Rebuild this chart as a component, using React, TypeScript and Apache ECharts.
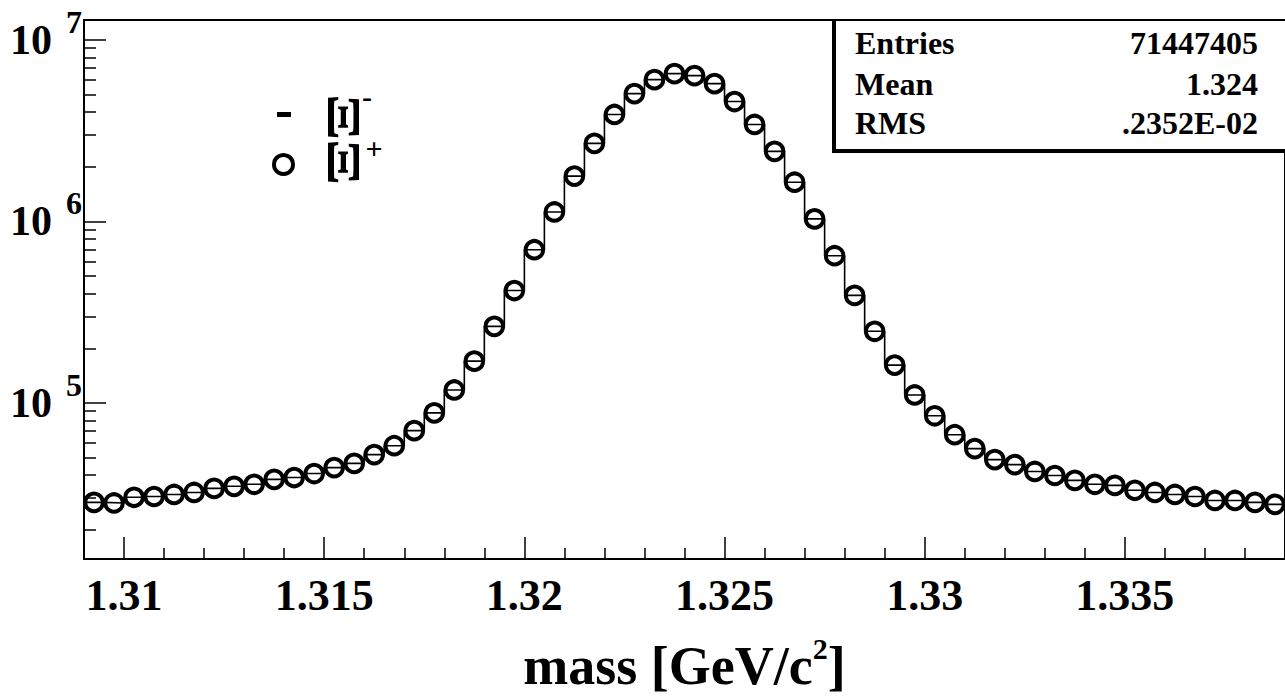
import React, { useEffect, useRef } from "react";
import * as echarts from "echarts";

const FONT = "'Liberation Serif', 'Times New Roman', serif";

// histogram binning (bin centres, GeV/c^2)
const binWidth = 0.0005;
const binCenters = [
  1.30925, 1.30975, 1.31025, 1.31075, 1.31125, 1.31175, 1.31225, 1.31275, 1.31325, 1.31375,
  1.31425, 1.31475, 1.31525, 1.31575, 1.31625, 1.31675, 1.31725, 1.31775, 1.31825, 1.31875,
  1.31925, 1.31975, 1.32025, 1.32075, 1.32125, 1.32175, 1.32225, 1.32275, 1.32325, 1.32375,
  1.32425, 1.32475, 1.32525, 1.32575, 1.32625, 1.32675, 1.32725, 1.32775, 1.32825, 1.32875,
  1.32925, 1.32975, 1.33025, 1.33075, 1.33125, 1.33175, 1.33225, 1.33275, 1.33325, 1.33375,
  1.33425, 1.33475, 1.33525, 1.33575, 1.33625, 1.33675, 1.33725, 1.33775, 1.33825, 1.33875,
];

// Xi- histogram contents (line)
const xiMinus = [
  28300, 28100, 30200, 30500, 31300, 32100, 33800, 34700, 35600, 37900,
  38800, 40800, 44000, 46400, 51900, 58100, 70300, 88100, 117800, 169800,
  264000, 416000, 698000, 1127000, 1776000, 2692000, 3882000, 5058000, 6039000, 6516000,
  6353000, 5741000, 4574000, 3420000, 2432000, 1644000, 1032000, 647000, 391000, 248000,
  161500, 110600, 84900, 66800, 56000, 48700, 45700, 41900, 39800, 37400,
  35600, 35100, 33000, 32100, 31300, 30500, 29000, 29000, 28300, 27600,
];

// anti-Xi+ histogram contents (open circles)
const xiBarPlus = [
  28300, 28100, 30200, 30500, 31300, 32100, 33800, 34700, 35600, 37900,
  38800, 40800, 44000, 46400, 51900, 58100, 70300, 88100, 117800, 169800,
  264000, 416000, 698000, 1127000, 1776000, 2692000, 3882000, 5058000, 6039000, 6516000,
  6353000, 5741000, 4574000, 3420000, 2432000, 1644000, 1032000, 647000, 391000, 248000,
  161500, 110600, 84900, 66800, 56000, 48700, 45700, 41900, 39800, 37400,
  35600, 35100, 33000, 32100, 31300, 30500, 29000, 29000, 28300, 27600,
];

const xMin = 1.309;
const xMax = 1.339;
const xMajorTicks = [1.31, 1.315, 1.32, 1.325, 1.33, 1.335];
const xMinorTicks = [
  1.311, 1.312, 1.313, 1.314, 1.316, 1.317, 1.318, 1.319, 1.321, 1.322, 1.323, 1.324,
  1.326, 1.327, 1.328, 1.329, 1.331, 1.332, 1.333, 1.334, 1.336, 1.337, 1.338,
];
const yMin = 13800;
const yMax = 12870000;
const yMajorTicks = [1e5, 1e6, 1e7];
const yMinorTicks = [
  2e4, 3e4, 4e4, 5e4, 6e4, 7e4, 8e4, 9e4,
  2e5, 3e5, 4e5, 5e5, 6e5, 7e5, 8e5, 9e5,
  2e6, 3e6, 4e6, 5e6, 6e6, 7e6, 8e6, 9e6,
];

const statsLabels = ["Entries", "Mean", "RMS"];
const statsValues = ["71447405", "1.324", ".2352E-02"];

export default function App() {
  const ref = useRef<HTMLDivElement>(null);

  useEffect(() => {
    if (!ref.current) return;
    const chart = echarts.init(ref.current, null, { renderer: "svg" });

    const histPoints: number[][] = xiMinus.map((v, i) => [binCenters[i] - binWidth / 2, v]);
    histPoints.push([binCenters[binCenters.length - 1] + binWidth / 2, xiMinus[xiMinus.length - 1]]);
    const circlePoints = xiBarPlus.map((v, i) => [binCenters[i], v]);

    const boldText = { fontFamily: FONT, fontWeight: "bold" as const, color: "#000" };

    const statsRowY = [43, 84, 123];
    const statsGraphics: any[] = [];
    statsLabels.forEach((t, i) => {
      statsGraphics.push({
        type: "text",
        x: 855,
        y: statsRowY[i],
        style: { text: t, font: `bold 32px ${FONT}`, fill: "#000", align: "left", verticalAlign: "middle" },
      });
      statsGraphics.push({
        type: "text",
        x: 1258,
        y: statsRowY[i],
        style: { text: statsValues[i], font: `bold 32px ${FONT}`, fill: "#000", align: "right", verticalAlign: "middle" },
      });
    });

    chart.setOption({
      animation: false,
      backgroundColor: "#fff",
      grid: {
        left: 84,
        top: 20,
        right: 0,
        bottom: 136,
        show: true,
        borderColor: "#000",
        borderWidth: 2,
        backgroundColor: "transparent",
      },
      xAxis: [
        {
          type: "value",
          min: xMin,
          max: xMax,
          position: "bottom",
          axisLine: { show: true, onZero: false, lineStyle: { color: "#000", width: 2 } },
          axisTick: { show: true, inside: true, length: 22, customValues: xMajorTicks, lineStyle: { color: "#000", width: 1.5 } },
          axisLabel: {
            customValues: xMajorTicks,
            formatter: (v: number) => String(v),
            fontSize: 44,
            margin: 14,
            ...boldText,
          },
          splitLine: { show: false },
          name: "{a|mass [GeV/c}{s|2}{a|]}",
          nameLocation: "middle",
          nameGap: 74,
          nameTextStyle: {
            rich: {
              a: { fontSize: 54, fontFamily: FONT, fontWeight: "bold", color: "#000", lineHeight: 60, verticalAlign: "bottom" },
              s: { fontSize: 30, fontFamily: FONT, fontWeight: "bold", color: "#000", lineHeight: 30, verticalAlign: "top" },
            },
          },
        },
        {
          type: "value",
          min: xMin,
          max: xMax,
          position: "bottom",
          axisLine: { show: false },
          axisTick: { show: true, inside: true, length: 11, customValues: xMinorTicks, lineStyle: { color: "#000", width: 1.5 } },
          axisLabel: { show: false },
          splitLine: { show: false },
        },
      ],
      yAxis: [
        {
          type: "log",
          logBase: 10,
          min: yMin,
          max: yMax,
          position: "left",
          axisLine: { show: true, lineStyle: { color: "#000", width: 2 } },
          axisTick: { show: true, inside: true, length: 22, customValues: yMajorTicks, lineStyle: { color: "#000", width: 1.5 } },
          axisLabel: {
            customValues: yMajorTicks,
            margin: 2,
            formatter: (v: number) => `{b|10}{e|${Math.round(Math.log10(v))}}`,
            rich: {
              b: { fontSize: 42, fontFamily: FONT, fontWeight: "bold", color: "#000", lineHeight: 68, verticalAlign: "middle" },
              e: { fontSize: 32, fontFamily: FONT, fontWeight: "bold", color: "#000", lineHeight: 32, verticalAlign: "top", padding: [0, 0, 36, 14] },
            },
          },
          splitLine: { show: false },
          minorTick: { show: false },
        },
        {
          type: "log",
          logBase: 10,
          min: yMin,
          max: yMax,
          position: "left",
          axisLine: { show: false },
          axisTick: { show: true, inside: true, length: 12, customValues: yMinorTicks, lineStyle: { color: "#000", width: 1.5 } },
          axisLabel: { show: false },
          splitLine: { show: false },
        },
      ],
      series: [
        {
          name: "Ξ⁻",
          type: "line",
          step: "end",
          data: histPoints,
          symbol: "none",
          xAxisIndex: 0,
          yAxisIndex: 0,
          lineStyle: { color: "#000", width: 1.6 },
          z: 2,
        },
        {
          name: "Ξ̄⁺",
          type: "scatter",
          data: circlePoints,
          symbol: "circle",
          symbolSize: 17.5,
          xAxisIndex: 0,
          yAxisIndex: 0,
          itemStyle: { color: "rgba(0,0,0,0)", borderColor: "#000", borderWidth: 4, opacity: 1 },
          z: 3,
        },
      ],
      graphic: [
        // legend
        { type: "rect", shape: { x: 277, y: 112, width: 14, height: 5 }, style: { fill: "#000" } },
        { type: "circle", shape: { cx: 283.5, cy: 164.5, r: 9.5 }, style: { fill: "none", stroke: "#000", lineWidth: 4 } },
        {
          type: "text", x: 343, y: 117, rotation: -Math.PI / 2, scaleX: 1.5,
          style: { text: "Ξ", font: `bold 46px ${FONT}`, fill: "#000", align: "center", verticalAlign: "middle" },
        },
        {
          type: "text", x: 343, y: 162, rotation: -Math.PI / 2, scaleX: 1.5,
          style: { text: "Ξ", font: `bold 46px ${FONT}`, fill: "#000", align: "center", verticalAlign: "middle" },
        },
        { type: "text", x: 367, y: 96, style: { text: "-", font: `bold 30px ${FONT}`, fill: "#000", align: "center", verticalAlign: "middle" } },
        { type: "text", x: 374, y: 148, style: { text: "+", font: `bold 30px ${FONT}`, fill: "#000", align: "center", verticalAlign: "middle" } },
        // statistics box
        {
          type: "group",
          children: [
            { type: "rect", shape: { x: 833, y: 20, width: 460, height: 131 }, style: { fill: "#fff", stroke: "#000", lineWidth: 2 } },
            { type: "line", shape: { x1: 834, y1: 19, x2: 834, y2: 153 }, style: { stroke: "#000", lineWidth: 4 } },
            { type: "line", shape: { x1: 832, y1: 151, x2: 1290, y2: 151 }, style: { stroke: "#000", lineWidth: 4 } },
            ...statsGraphics,
          ],
        },
      ],
    });

    return () => chart.dispose();
  }, []);

  return (
    <div
      ref={ref}
      style={{ position: "fixed", left: 0, top: 0, width: 1285, height: 698, background: "#fff" }}
    />
  );
}
